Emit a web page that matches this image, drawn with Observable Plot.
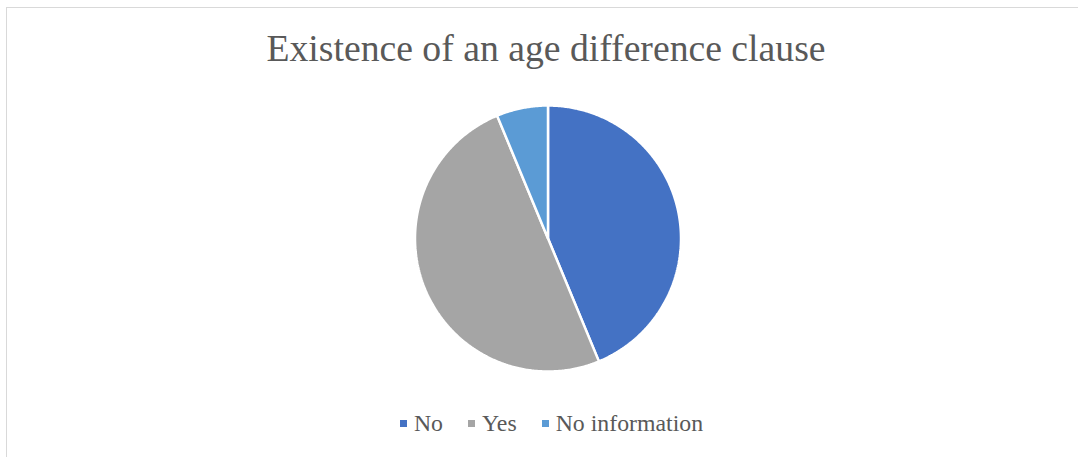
<!DOCTYPE html>
<html>
<head>
<meta charset="utf-8">
<script src="https://cdn.jsdelivr.net/npm/d3@7"></script>
<script src="https://cdn.jsdelivr.net/npm/@observablehq/plot@0.6"></script>
<style>
  html, body { margin: 0; padding: 0; background: #fff; }
  #wrap { position: relative; width: 1078px; height: 457px; overflow: hidden; }
  #wrap, #title, #legend, .item, .item span { font-family: "Liberation Serif", "Times New Roman", Times, serif; }
  #frame { position: absolute; left: 6px; top: 7px; width: 1200px; height: 600px; border-top: 1.5px solid #d9d9d9; border-left: 1.5px solid #d9d9d9; }
  #title { position: absolute; left: 0; width: 1092px; top: 26px; text-align: center; font-size: 37.7px; color: #595959; line-height: 44px; white-space: nowrap; }
  #chart { position: absolute; left: 0; top: 0; }
  #legend { position: absolute; top: 409px; left: 0; width: 1103px; display: flex; justify-content: center; font-size: 23.8px; color: #595959; line-height: 28px; }
  .item { display: flex; align-items: center; margin: 0 12.5px; }
  .sw { width: 7px; height: 7px; margin-right: 7px; }
</style>
</head>
<body>
<div id="wrap">
  <div id="frame"></div>
  <div id="chart"></div>
  <div id="title"></div>
  <div id="legend"></div>
</div>
<script>
const titleText = "Existence of an age difference clause";
const categories = ["No", "Yes", "No information"];
const values = [7, 8, 1];
const colors = ["#4472C4", "#A5A5A5", "#5B9BD5"];

document.getElementById("title").textContent = titleText;

// Build slice outlines (unit circle) from the values
const total = d3.sum(values);
const points = [];
let start = 0;
categories.forEach((c, i) => {
  const a0 = start;
  const a1 = start + (values[i] / total) * 2 * Math.PI;
  start = a1;
  points.push({category: c, x: 0, y: 0});
  const n = Math.max(2, Math.ceil((a1 - a0) / (Math.PI / 360)));
  for (let k = 0; k <= n; k++) {
    const a = a0 + (a1 - a0) * k / n;
    points.push({category: c, x: Math.sin(a), y: Math.cos(a)});
  }
  points.push({category: c, x: 0, y: 0});
});

const W = 1078, H = 457, cx = 547.5, cy = 238, R = 133;
const plot = Plot.plot({
  width: W,
  height: H,
  margin: 0,
  style: {background: "transparent", overflow: "visible"},
  x: {domain: [-cx / R, (W - cx) / R], axis: null},
  y: {domain: [-(H - cy) / R, cy / R], axis: null},
  color: {domain: categories, range: colors},
  marks: [
    Plot.line(points, {x: "x", y: "y", z: "category", fill: "category", stroke: "white", strokeWidth: 2.5, strokeLinejoin: "miter", curve: "linear"})
  ]
});
document.getElementById("chart").appendChild(plot);

const legend = document.getElementById("legend");
categories.forEach((c, i) => {
  const item = document.createElement("div");
  item.className = "item";
  const sw = document.createElement("div");
  sw.className = "sw";
  sw.style.background = colors[i];
  const t = document.createElement("span");
  t.textContent = c;
  item.appendChild(sw);
  item.appendChild(t);
  legend.appendChild(item);
});
</script>
</body>
</html>
